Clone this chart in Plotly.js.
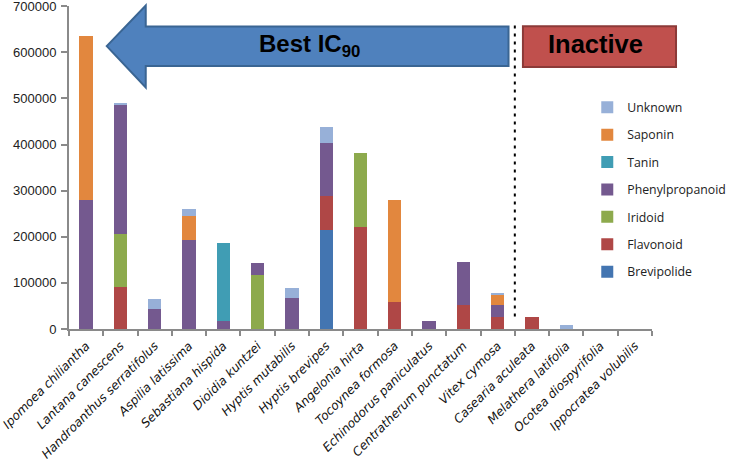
<!DOCTYPE html>
<html>
<head>
<meta charset="utf-8">
<script src="https://cdn.plot.ly/plotly-3.0.1.min.js"></script>
<style>html,body{margin:0;padding:0;background:#fff;}#chart{width:729px;height:464px;}</style>
</head>
<body>
<div id="chart"></div>
<script>
// ---- Data ----
const species = ["Ipomoea chiliantha","Lantana canescens","Handroanthus serratifolus","Aspilia latissima","Sebastiana hispida","Dioidia kuntzei","Hyptis mutabilis","Hyptis brevipes","Angelonia hirta","Tocoynea formosa","Echinodorus paniculatus","Centratherum punctatum","Vitex cymosa","Casearia aculeata","Melathera latifolia","Ocotea diospyrifolia","Ippocratea volubilis"];
const brevipolide     = [0,0,0,0,0,0,0,215000,0,0,0,0,0,0,0,0,0];
const flavonoid       = [0,90000,0,0,0,0,0,73000,222000,58000,0,51000,26000,25000,0,0,0];
const iridoid         = [0,115000,0,0,0,117000,0,0,160000,0,0,0,0,0,0,0,0];
const phenylpropanoid = [280000,281000,44000,193000,18000,27000,68000,115000,0,0,17000,95000,25000,0,0,0,0];
const tanin           = [0,0,0,0,169000,0,0,0,0,0,0,0,0,0,0,0,0];
const saponin         = [355000,0,0,53000,0,0,0,0,0,221000,0,0,22000,0,0,0,0];
const unknown         = [0,5000,20000,15000,0,0,21000,34000,0,0,0,0,6000,0,8000,0,0];
const yTicks = [0,100000,200000,300000,400000,500000,600000,700000];

const seriesNames  = ["Brevipolide","Flavonoid","Iridoid","Phenylpropanoid","Tanin","Saponin","Unknown"];
const seriesValues = [brevipolide,flavonoid,iridoid,phenylpropanoid,tanin,saponin,unknown];
const seriesColors = ["#4375B1","#AF4746","#8DAA4D","#74598F","#409DB4","#E2873E","#97B0D8"];

// ---- Layout helpers (pixel -> paper) ----
const L = 69, R = 651.7, T = 5.5, B = 329.5;
const YMAX = 700000;
const px = p => (p - L) / (R - L);
const py = p => (B - p) / (B - T);

const traces = seriesNames.map((n, i) => ({
  type: "bar", name: n, x: species, y: seriesValues[i],
  marker: {color: seriesColors[i], line: {width: 0}},
  legendgroup: n, legendrank: seriesNames.length - i, hoverinfo: "none"
}));

const arrowPts = [[106.7,45.7],[145.7,5],[145.7,26],[508.3,26],[508.3,65.7],[145.7,65.7],[145.7,87.3]];
const arrowPath = "M" + arrowPts.map(p => px(p[0]).toFixed(5) + "," + py(p[1]).toFixed(5)).join(" L") + " Z";

const layout = {
  width: 729, height: 464,
  margin: {l: L, r: 729 - R, t: T, b: 464 - B, autoexpand: false},
  paper_bgcolor: "#fff", plot_bgcolor: "#fff",
  barmode: "stack", bargap: 0.61,
  font: {family: "Liberation Sans, Arial, sans-serif", color: "#222"},
  showlegend: true,
  legend: {
    x: px(587), xanchor: "left", y: py(92.5), yanchor: "top",
    traceorder: "grouped", tracegroupgap: 8.4,
    font: {family: "Open Sans, sans-serif", size: 12.3, color: "#222"},
    bgcolor: "rgba(0,0,0,0)"
  },
  xaxis: {
    type: "category", range: [-0.5, species.length - 0.5],
    showline: true, linecolor: "#8a8a8a", linewidth: 2,
    ticks: "outside", tickson: "boundaries", ticklen: 5, tickcolor: "#8a8a8a", tickwidth: 2,
    tickangle: -45, showgrid: false, zeroline: false, ticklabelstandoff: 3,
    tickfont: {family: "DejaVu Sans, sans-serif", size: 12.2, style: "italic", color: "#111"}
  },
  yaxis: {
    range: [0, YMAX * 1.0005], tickvals: yTicks, ticktext: yTicks.map(v => String(v)),
    showline: true, linecolor: "#8a8a8a", linewidth: 2,
    ticks: "outside", ticklen: 6, tickcolor: "#8a8a8a", tickwidth: 2,
    showgrid: false, zeroline: false, ticklabeloverflow: "allow", ticklabelstandoff: 2,
    tickfont: {family: "Liberation Sans, Arial, sans-serif", size: 13, color: "#222"}
  },
  shapes: [
    {type: "path", xref: "paper", yref: "paper", path: arrowPath,
     fillcolor: "#4F81BD", line: {color: "#3A6593", width: 2}, layer: "above"},
    {type: "rect", xref: "paper", yref: "paper",
     x0: px(522.7), x1: px(675.7), y0: py(66.7), y1: py(25.7),
     fillcolor: "#C0504D", line: {color: "#8C3A38", width: 2}, layer: "above"},
    {type: "line", xref: "x", yref: "paper", x0: 12.5, x1: 12.5, y0: py(317), y1: py(22),
     line: {color: "#000", width: 2, dash: "3px,5px"}, layer: "above"}
  ],
  annotations: [
    {xref: "paper", yref: "paper", x: px(309), y: py(45), xanchor: "center", yanchor: "middle",
     text: "<b>Best IC<sub>90</sub></b>", showarrow: false,
     font: {family: "Liberation Sans, Arial, sans-serif", size: 24, color: "#000"}},
    {xref: "paper", yref: "paper", x: px(595.5), y: py(44), xanchor: "center", yanchor: "middle",
     text: "<b>Inactive</b>", showarrow: false,
     font: {family: "Liberation Sans, Arial, sans-serif", size: 25.5, color: "#000"}}
  ]
};

Plotly.newPlot("chart", traces, layout, {displayModeBar: false, staticPlot: true});
</script>
</body>
</html>
